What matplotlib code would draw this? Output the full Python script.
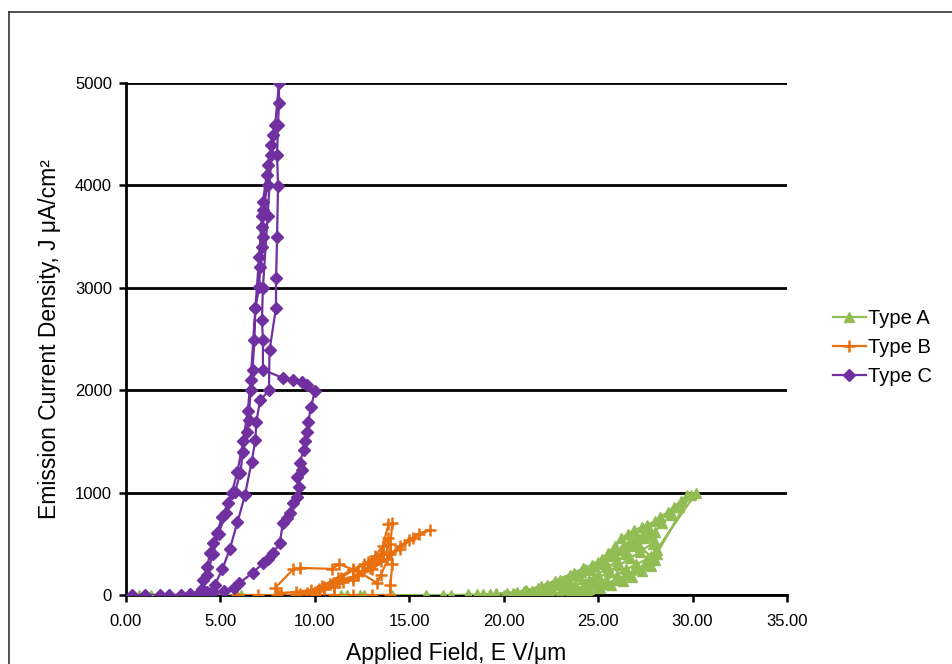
import matplotlib
matplotlib.use("Agg")
import matplotlib.pyplot as plt
from matplotlib.lines import Line2D

plt.rcParams['font.family'] = ['Liberation Sans', 'DejaVu Sans']

# ---- data ----
typeA_E = [0.7, 1.0, 1.3, 5.9, 6.1, 11.4, 11.7, 12.4, 12.6, 14.1, 15.9, 16.8, 17.2, 18.1, 18.6,
           18.9, 19.3, 19.6, 20.2, 20.7, 21.2, 21.8, 22.3, 23.0, 23.7, 24.3, 24.7, 25.2, 25.5,
           25.9, 26.2, 26.6, 26.9, 27.3, 27.6, 28.0, 28.3, 28.7, 29.0, 29.4, 29.7, 30.2,
           28.1, 28.0, 27.5, 27.0, 26.5, 26.0, 25.5, 25.0, 24.5, 24.0, 23.0, 22.0, 21.0, 20.0,
           20.5, 21.5, 22.5, 23.3, 24.0, 24.6, 25.2, 25.8, 26.2, 26.6, 27.0, 27.6, 27.9, 28.0,
           27.6, 27.0, 26.5, 26.0, 25.4, 24.8, 24.2, 23.6, 23.0,
           23.8, 24.5, 25.0, 25.5, 26.0, 26.5, 27.0, 27.5, 28.0, 28.4, 28.9, 29.3, 29.9,
           28.1, 27.8, 27.3, 26.8, 26.3, 25.7, 25.1, 24.4, 23.5, 22.5,
           21.6, 22.1, 22.8, 23.4, 24.1, 24.8, 25.3, 25.9, 26.4, 26.9, 27.3, 27.7, 28.0,
           27.2, 26.7, 26.1, 25.6, 25.0, 24.3, 23.7, 23.1, 22.4, 21.9, 21.3, 20.6,
           21.1, 22.0, 22.7, 23.5, 24.2, 25.0, 25.7, 26.3, 26.8, 27.2, 27.8]
typeA_J = [0, 0, 0, 0, 0, 0, 0, 0, 0, 0, 0, 0, 0, 5, 5,
           10, 10, 15, 20, 30, 50, 70, 100, 150, 215, 250, 290, 350, 410,
           480, 555, 600, 635, 660, 685, 720, 765, 810, 860, 920, 975, 1000,
           440, 340, 300, 250, 200, 150, 110, 80, 60, 40, 20, 10, 5, 0,
           15, 40, 80, 130, 190, 240, 300, 380, 440, 500, 560, 600, 500, 400,
           350, 300, 250, 200, 150, 110, 80, 50, 30,
           100, 150, 200, 270, 330, 400, 480, 560, 620, 700, 780, 860, 980,
           400, 280, 230, 180, 140, 100, 70, 45, 25, 10,
           30, 60, 110, 160, 220, 280, 330, 390, 450, 520, 580, 640, 520,
           420, 360, 290, 230, 170, 120, 90, 60, 40, 25, 15, 5,
           40, 90, 140, 200, 260, 320, 400, 470, 540, 470, 380]

typeB_E = [5.9, 7.0, 8.0, 9.0, 10.0, 11.0, 12.0, 13.0, 14.0, 14.0, 14.1, 14.0, 14.1,
           13.9, 13.6, 13.4, 13.0, 12.5, 12.0, 11.3, 10.5, 9.8, 9.0, 8.2,
           7.9, 8.85, 9.2, 10.9, 11.3, 12.3, 13.3, 13.5, 14.0, 14.5, 15.0, 15.5, 16.1,
           15.2, 14.5, 13.8, 13.0, 12.0, 11.0, 10.0, 9.2,
           10.5, 11.5, 12.3, 12.9, 13.5, 13.8, 13.9,
           13.2, 12.6, 12.0, 11.4, 10.8, 10.2, 9.6, 10.4, 11.2, 12.0, 12.8, 13.6]
typeB_J = [0, 0, 0, 0, 0, 0, 0, 0, 0, 100, 300, 500, 700,
           690, 480, 350, 300, 230, 180, 130, 80, 50, 30, 20,
           70, 250, 265, 255, 300, 230, 117, 200, 400, 480, 540, 600, 635,
           560, 450, 350, 250, 150, 80, 30, 10,
           60, 130, 200, 260, 330, 420, 560,
           380, 300, 240, 170, 110, 60, 20, 90, 170, 250, 320, 400]

typeC_E = [0.3, 1.0, 1.8, 2.3, 2.9, 3.4, 3.9, 4.1, 4.3, 4.45, 4.6, 4.8, 5.1, 5.4, 5.77, 6.05,
           6.2, 6.4, 6.5, 6.6, 6.7, 6.8, 6.85, 7.05, 7.1, 7.2, 7.25, 7.2, 7.25, 7.25, 7.45,
           7.5, 7.7, 7.8, 7.9, 8.1,
           8.1, 8.05, 8.0, 8.05, 8.0, 7.95, 7.94, 7.6, 7.57, 7.1, 6.9, 6.85, 6.65, 6.3, 5.9,
           5.5, 5.1, 4.7, 4.3, 3.8,
           4.0, 4.3, 4.6, 4.9, 5.3, 5.6, 5.9, 6.2, 6.45, 6.6, 6.85, 7.05, 7.2, 7.5, 7.7,
           7.5, 7.25, 7.2, 7.25, 7.25, 8.3, 8.85, 9.3, 9.6, 10.0, 9.8, 9.65, 9.6, 9.5, 9.4,
           9.2, 9.3, 9.05, 9.17, 9.05, 8.85, 8.7, 8.5, 8.3, 8.15, 7.8, 7.5, 7.25, 6.7, 6.0,
           5.7, 5.2, 4.6, 4.3]
typeC_J = [0, 0, 0, 0, 0, 10, 30, 145, 275, 410, 505, 605, 760, 900, 1005, 1190,
           1400, 1590, 1710, 2000, 2200, 2490, 2800, 3010, 3200, 3400, 3500, 3595, 3760, 3840, 4100,
           4200, 4390, 4490, 4590, 5000,
           4800, 4590, 4300, 3995, 3500, 3095, 2800, 2390, 2000, 1900, 1690, 1510, 1300, 975, 710,
           450, 250, 100, 30, 0,
           60, 200, 400, 600, 800, 1000, 1200, 1500, 1800, 2100, 2800, 3300, 3700, 4000, 4300,
           3700, 3000, 2690, 2490, 2200, 2120, 2100, 2080, 2050, 1990, 1840, 1690, 1590, 1500, 1415,
           1290, 1220, 1150, 1055, 960, 895, 800, 750, 700, 510, 410, 350, 310, 215, 117,
           68, 40, 25, 20]

series_names = ['Type A', 'Type B', 'Type C']
x_ticks = [0, 5, 10, 15, 20, 25, 30, 35]
y_ticks = [0, 1000, 2000, 3000, 4000, 5000]

# ---- figure ----
fig = plt.figure(figsize=(9.53, 6.64), dpi=100)
ax = fig.add_axes([0.1322, 0.1039, 0.8258 - 0.1322, 0.875 - 0.1039])

green = '#92BD55'
orange = '#E8700F'
purple = '#7030A0'

ax.plot(typeA_E, typeA_J, color=green, lw=1.6, marker='^', ms=7, mfc=green, mec=green,
        label=series_names[0], zorder=3)
ax.plot(typeB_E, typeB_J, color=orange, lw=1.6, marker='+', ms=9, mew=1.8,
        label=series_names[1], zorder=4)
ax.plot(typeC_E, typeC_J, color=purple, lw=1.6, marker='D', ms=6, mfc=purple, mec=purple,
        label=series_names[2], zorder=5)

ax.set_xlim(0, 35)
ax.set_ylim(0, 5000)
ax.set_xticks(x_ticks)
ax.set_xticklabels([f"{v:.2f}" for v in x_ticks])
ax.set_yticks(y_ticks)
ax.set_yticklabels([str(v) for v in y_ticks])
ax.tick_params(axis='both', labelsize=12, length=5, width=1.8, color='black', direction='out')
ax.tick_params(axis='x', pad=9)
ax.tick_params(axis='y', pad=5)

ax.yaxis.grid(True, color='black', lw=2.0, zorder=1)
ax.set_axisbelow(True)
for s in ['top', 'right']:
    ax.spines[s].set_visible(False)
for s in ['left', 'bottom']:
    ax.spines[s].set_color('black')
    ax.spines[s].set_linewidth(2.0)

ax.set_xlabel('Applied Field, E V/\u03bcm', fontsize=16.5, labelpad=9)
ax.set_ylabel('Emission Current Density, J \u03bcA/cm\u00b2', fontsize=16.5, labelpad=10)

fig.legend(loc='center left', bbox_to_anchor=(0.866, 0.477), frameon=False,
           fontsize=14.5, handlelength=1.6, handletextpad=0.1, labelspacing=0.5,
           borderaxespad=0)

# figure border
fig.add_artist(Line2D([9 / 953, 1.0], [1 - 12 / 664, 1 - 12 / 664], transform=fig.transFigure,
                      color='#333333', lw=1.2))
fig.add_artist(Line2D([9 / 953, 9 / 953], [0.0, 1 - 12 / 664], transform=fig.transFigure,
                      color='#333333', lw=1.2))

fig.savefig('out.png', dpi=100)
